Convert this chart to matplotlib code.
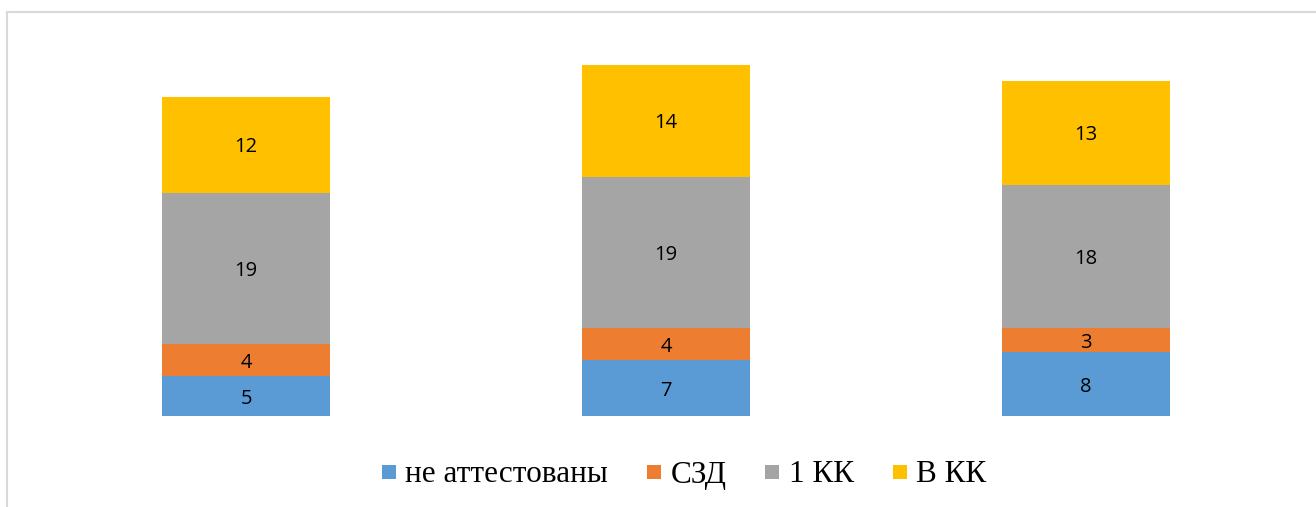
import numpy as np
import matplotlib.pyplot as plt
from matplotlib.lines import Line2D
from matplotlib.patches import Rectangle

# data
categories = ['1', '2', '3']
series_names = ['не аттестованы', 'СЗД', '1 КК', 'В КК']
ne_attest = [5, 7, 8]
szd = [4, 4, 3]
kk1 = [19, 19, 18]
vkk = [12, 14, 13]
colors = ['#5B9BD5', '#ED7D31', '#A5A5A5', '#FFC000']

W, H = 1316, 507
fig = plt.figure(figsize=(W / 100, H / 100), dpi=100)

# plot area in pixels: x 36..1296, y 26..416
ax = fig.add_axes([36 / W, (H - 416) / H, 1260 / W, 390 / H])

x = np.arange(len(categories))
bottom = np.zeros(len(categories))
for name, vals, c in zip(series_names, [ne_attest, szd, kk1, vkk], colors):
    ax.bar(x, vals, width=0.4, bottom=bottom, color=c, linewidth=0)
    for xi, b, v in zip(x, bottom, vals):
        ax.annotate(str(v), (xi, b + v / 2), xytext=(0, -2.5),
                    textcoords='offset pixels', ha='center', va='center',
                    fontsize=14.5, family='Open Sans', color='black')
    bottom += np.array(vals)

ax.set_xlim(-0.5, len(categories) - 0.5)
ax.set_ylim(0, 390 / 7.98)
ax.axis('off')

# chart border (only top and left are visible in the crop)
fig.add_artist(Rectangle((7 / W, -0.5), 2, (H - 12) / H + 0.5,
                         transform=fig.transFigure, fill=False,
                         edgecolor='#D9D9D9', linewidth=1.5))

handles = [Line2D([], [], marker='s', linestyle='none', markersize=9.5,
                  markerfacecolor=c, markeredgewidth=0) for c in colors]
fig.legend(handles, series_names, loc='center', ncol=4,
           bbox_to_anchor=(684 / W, (H - 475) / H), frameon=False,
           prop={'family': 'Liberation Serif', 'size': 22.5},
           handlelength=0.45, handletextpad=0.3, columnspacing=1.25,
           borderpad=0, borderaxespad=0)

fig.savefig('out.png', dpi=100)
